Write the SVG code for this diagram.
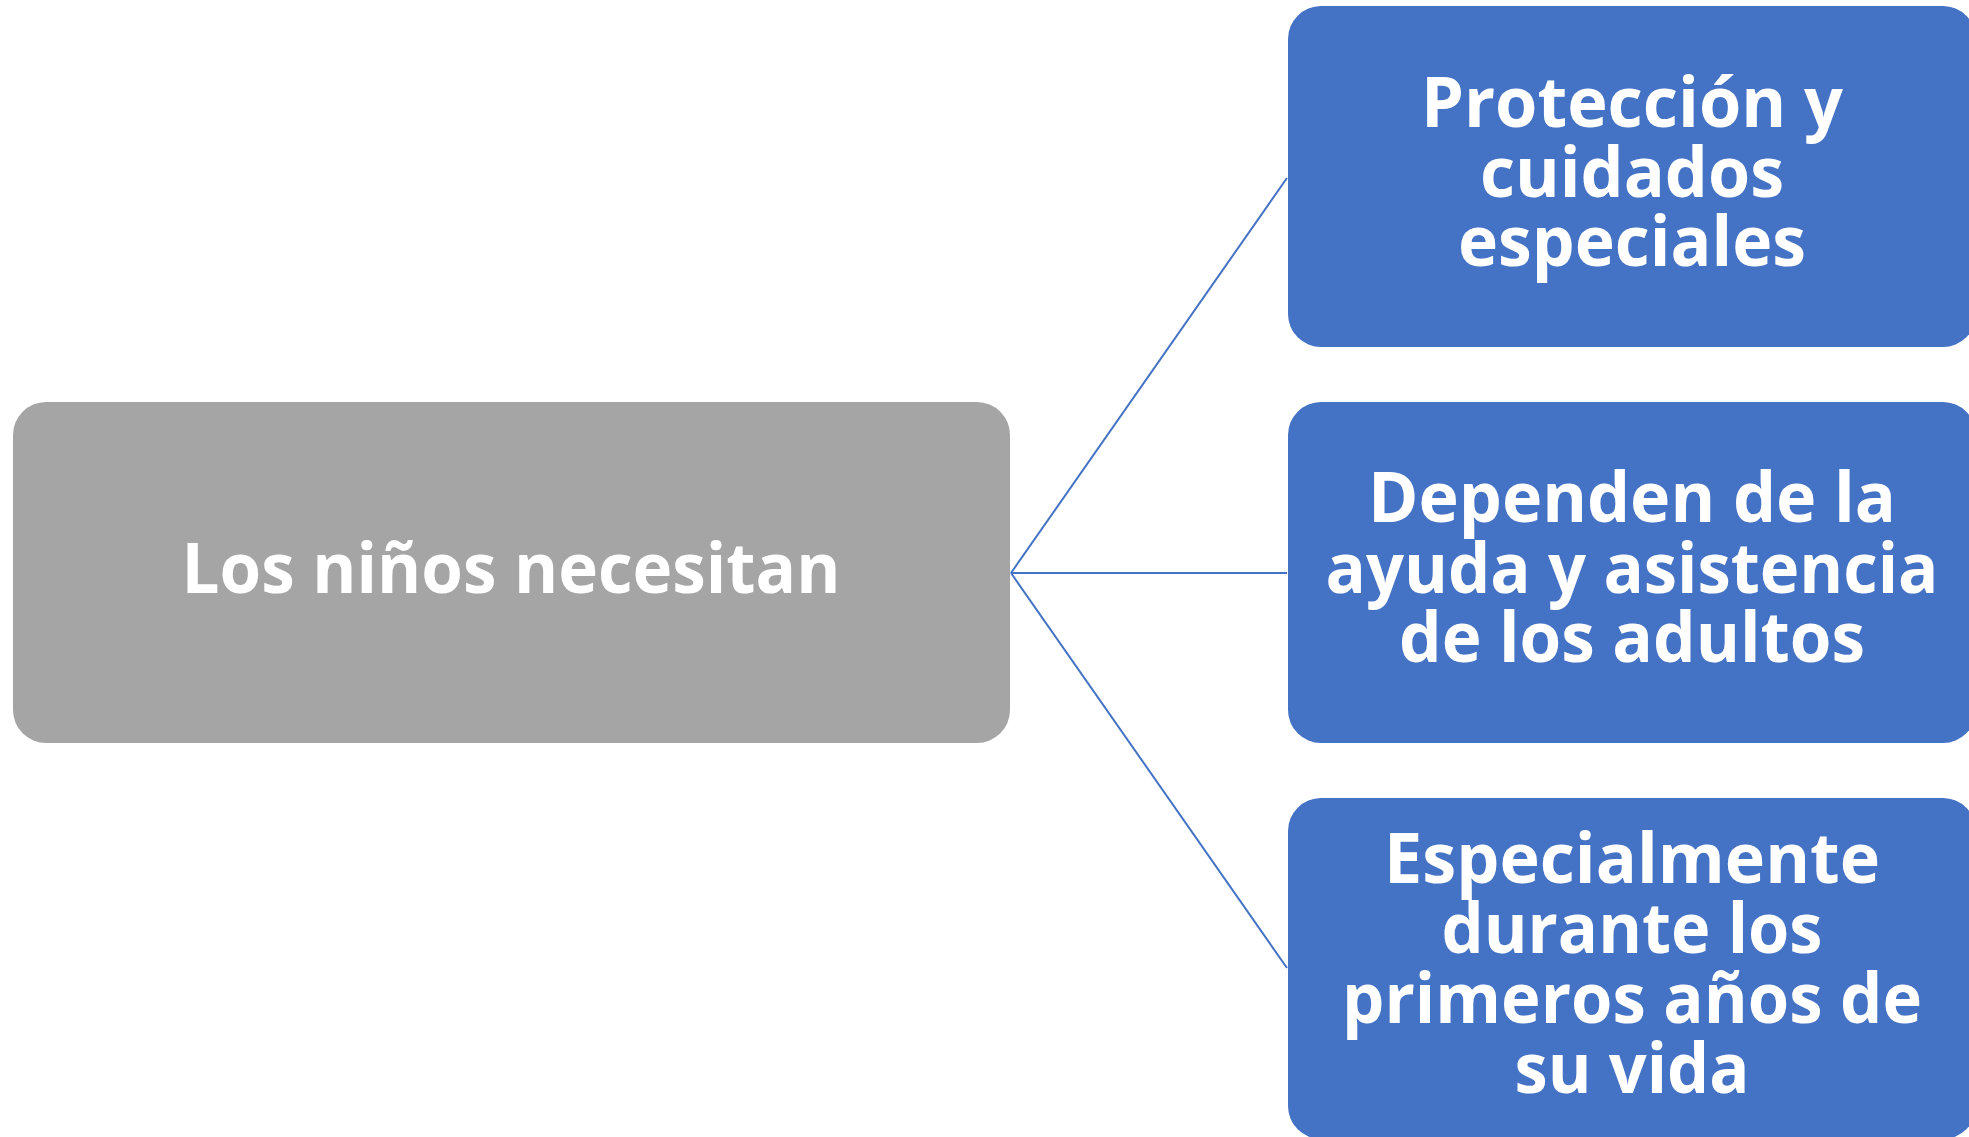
<svg xmlns="http://www.w3.org/2000/svg" width="1969" height="1137" viewBox="0 0 1969 1137">
<style>
.grey{fill:#A5A5A5}
.blue{fill:#4472C4}
.t{font-family:"Open Sans","Liberation Sans",sans-serif;font-weight:700;font-size:69px;fill:#FFFFFF;text-anchor:middle}
.c{stroke:#4472C4;stroke-width:2;fill:none}
</style>
<rect width="1969" height="1137" fill="#FFFFFF"/>
<g id="connectors">
<line class="c" x1="1011" y1="573" x2="1287" y2="178"/>
<line class="c" x1="1011" y1="573" x2="1287" y2="573"/>
<line class="c" x1="1011" y1="573" x2="1287" y2="968"/>
</g>
<g id="node-root">
<rect class="grey" x="13" y="402" width="997" height="341" rx="33" ry="33"/>
<text class="t" x="511" y="593" textLength="659" lengthAdjust="spacingAndGlyphs">Los niños necesitan</text>
</g>
<g id="node-1">
<rect class="blue" x="1288" y="6" width="688" height="341" rx="33" ry="33"/>
<text class="t" x="1632" y="127" textLength="422" lengthAdjust="spacingAndGlyphs">Protección y</text>
<text class="t" x="1632" y="197" textLength="304" lengthAdjust="spacingAndGlyphs">cuidados</text>
<text class="t" x="1632" y="266" textLength="348" lengthAdjust="spacingAndGlyphs">especiales</text>
</g>
<g id="node-2">
<rect class="blue" x="1288" y="402" width="688" height="341" rx="33" ry="33"/>
<text class="t" x="1632" y="522" textLength="528" lengthAdjust="spacingAndGlyphs">Dependen de la</text>
<text class="t" x="1632" y="593" textLength="613" lengthAdjust="spacingAndGlyphs">ayuda y asistencia</text>
<text class="t" x="1632" y="662" textLength="466" lengthAdjust="spacingAndGlyphs">de los adultos</text>
</g>
<g id="node-3">
<rect class="blue" x="1288" y="798" width="688" height="341" rx="33" ry="33"/>
<text class="t" x="1632" y="883" textLength="496" lengthAdjust="spacingAndGlyphs">Especialmente</text>
<text class="t" x="1632" y="953" textLength="381" lengthAdjust="spacingAndGlyphs">durante los</text>
<text class="t" x="1632" y="1023" textLength="580" lengthAdjust="spacingAndGlyphs">primeros años de</text>
<text class="t" x="1632" y="1093" textLength="235" lengthAdjust="spacingAndGlyphs">su vida</text>
</g>
</svg>
